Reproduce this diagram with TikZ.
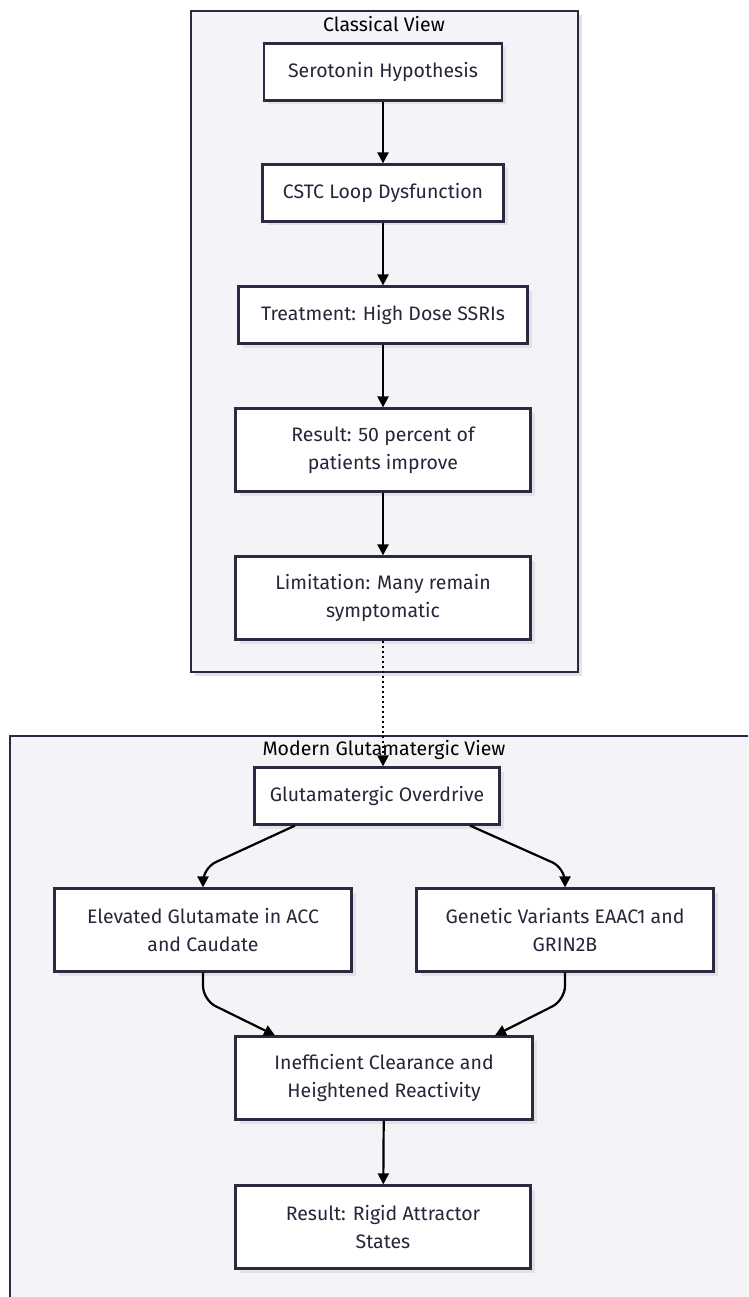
\documentclass[tikz,border=0pt]{standalone}
\usepackage{fontspec}
\setmainfont{Fira Sans}
\usetikzlibrary{arrows.meta,positioning,calc,shadows}

\definecolor{inkc}{HTML}{2A2A42}
\definecolor{txtc}{HTML}{26263A}
\definecolor{grpfill}{HTML}{F4F4F8}
\definecolor{shadc}{HTML}{E2E2E6}

\begin{document}
\begin{tikzpicture}[x=1pt, y=-1pt,
    grp/.style={draw=inkc, line width=2pt, fill=grpfill, drop shadow={shadow xshift=4pt, shadow yshift=-4pt, fill=shadc, opacity=1}},
    grptitle/.style={font=\fontsize{19.5}{22}\selectfont, text=black, inner sep=0pt},
    box/.style={draw=inkc, line width=2.2pt, fill=white, minimum height=57pt, align=center, inner sep=0pt,
        font=\fontsize{19.5}{28}\selectfont, text=txtc, drop shadow={shadow xshift=4pt, shadow yshift=-4pt, fill=shadc, opacity=1}},
    tall/.style={box, minimum height=83pt},
    arr/.style={-{Triangle[length=11pt,width=11pt]}, line width=2.2pt, black},
    darr/.style={arr, dash pattern=on 2.5pt off 2.5pt}
]
\clip (0,0) rectangle (748,1297);
\fill[white] (0,0) rectangle (748,1297);

% containers
\draw[grp] (191,11) rectangle (578,672);
\node[grptitle] (tclass) at (384,24) {Classical View};
\draw[grp] (10,736) rectangle (770,1320);
\node[grptitle] (tmod) at (384,750) {Modern Glutamatergic View};

% classical chain
\node[box, minimum width=238pt] (sero) at (383,72) {Serotonin Hypothesis};
\node[box, minimum width=241pt] (cstc) at (383,193) {CSTC Loop Dysfunction};
\node[box, minimum width=289pt] (ssri) at (383,315) {Treatment: High Dose SSRIs};
\node[tall, minimum width=295pt] (res) at (383,450) {Result: 50 percent of\\patients improve};
\node[tall, minimum width=295pt] (lim) at (383,598) {Limitation: Many remain\\symptomatic};

% modern chain
\node[box, minimum width=245pt] (over) at (377,796) {Glutamatergic Overdrive};
\node[tall, minimum width=297pt] (elev) at (203,930) {Elevated Glutamate in ACC\\and Caudate};
\node[tall, minimum width=297pt] (gene) at (565,930) {Genetic Variants EAAC1 and\\GRIN2B};
\node[tall, minimum width=297pt] (ineff) at (384,1078) {Inefficient Clearance and\\Heightened Reactivity};
\node[tall, minimum width=295pt] (rigid) at (383,1227) {Result: Rigid Attractor\\States};

\draw[arr] (sero) -- (cstc);
\draw[arr] (cstc) -- (ssri);
\draw[arr] (ssri) -- (res);
\draw[arr] (res) -- (lim);
\draw[darr] (lim.south) -- (lim.south |- over.north);

\draw[arr, rounded corners=14pt] ([xshift=-82pt]over.south) -- (203,868) -- (elev.north);
\draw[arr, rounded corners=14pt] ([xshift=93pt]over.south) -- (565,868) -- (gene.north);
\draw[arr, rounded corners=14pt] (elev.south) -- (203,1000) -- ([xshift=-109pt]ineff.north);
\draw[arr, rounded corners=14pt] (gene.south) -- (565,1000) -- ([xshift=111pt]ineff.north);
\draw[arr] (ineff) -- (rigid);
\end{tikzpicture}
\end{document}
